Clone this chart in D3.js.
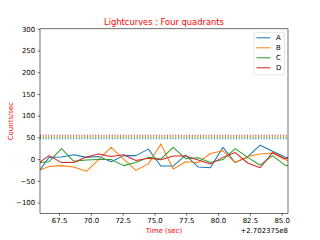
<!DOCTYPE html>
<html>
<head>
<meta charset="utf-8">
<script src="https://cdn.jsdelivr.net/npm/d3@7.9.0/dist/d3.min.js"></script>
<style>
  body { margin: 0; background: #fff; }
  svg { display: block; font-family: "DejaVu Sans", sans-serif; }
</style>
</head>
<body>
<svg width="320" height="240"></svg>
<script>
// time offsets (sec, relative to 2.702375e8)
const times = [66.0, 66.71, 67.69, 68.66, 69.64, 70.61, 71.59, 72.57, 73.54, 74.52, 75.50,
               76.47, 77.45, 78.43, 79.40, 80.38, 81.35, 82.33, 83.31, 84.28, 85.26, 85.5];
const seriesNames = ['A', 'B', 'C', 'D'];
const countsA = [-25, 4, 5, 10, 4, 6, -6, 8, 8, 23, -16, -16, 9, -18, -20, 27, -8, 5, 32, 18, 5, 3];
const countsB = [-25, -17, -15, -18, -28, -1, 27, 0, -26, -11, 35, -23, -6, -8, 13, 19, -8, 6, 12, 14, -1, -4];
const countsC = [-8, -6, 24, -5, -2, -1, -1, -15, -8, 4, 0, 27, 1, 3, -8, -1, 24, 4, -14, 8, -14, -15];
const countsD = [-7, 8, -8, -8, 5, 12, 6, 10, -3, 2, -1.5, 7, 7, -2, -11, 4, 15, -9, -20, 15, 1, 2];
const thresholds = [47, 52, 49, 55];   // dotted level per series
const xTicks = [67.5, 70.0, 72.5, 75.0, 77.5, 80.0, 82.5, 85.0];
const yTicks = [-100, -50, 0, 50, 100, 150, 200, 250, 300];

const colors = ['#1f77b4', '#ff7f0e', '#2ca02c', '#d62728'];
const allCounts = [countsA, countsB, countsC, countsD];

const m = { left: 40, right: 288, top: 28.8, bottom: 213.4 };
const fs = 6.94;

const svg = d3.select('svg');
const x = d3.scaleLinear().domain([66.0, 85.5]).range([m.left, m.right]);
const y = d3.scaleLinear().domain([-125, 300]).range([m.bottom, m.top]);

svg.append('defs').append('clipPath').attr('id', 'clip')
  .append('rect')
  .attr('x', m.left).attr('y', m.top)
  .attr('width', m.right - m.left).attr('height', m.bottom - m.top);

const plot = svg.append('g').attr('clip-path', 'url(#clip)');

// threshold dotted lines
thresholds.forEach((t, i) => {
  plot.append('line')
    .attr('x1', m.left).attr('x2', m.right)
    .attr('y1', y(t)).attr('y2', y(t))
    .attr('stroke', colors[i])
    .attr('stroke-width', 1.04)
    .attr('stroke-dasharray', '1.04,1.72');
});

const line = d3.line()
  .x((d, i) => x(times[i]))
  .y(d => y(d));

allCounts.forEach((vals, i) => {
  plot.append('path')
    .attr('d', line(vals))
    .attr('fill', 'none')
    .attr('stroke', colors[i])
    .attr('stroke-width', 1.04)
    .attr('stroke-linejoin', 'round');
});

// axes
const xAxis = svg.append('g')
  .attr('transform', `translate(0,${m.bottom})`)
  .call(d3.axisBottom(x).tickValues(xTicks).tickFormat(d3.format('.1f'))
    .tickSize(2.43).tickPadding(2.43).tickSizeOuter(0));
const yAxis = svg.append('g')
  .attr('transform', `translate(${m.left},0)`)
  .call(d3.axisLeft(y).tickValues(yTicks).tickFormat(d3.format('d'))
    .tickSize(2.43).tickPadding(2.43).tickSizeOuter(0));

[xAxis, yAxis].forEach(a => {
  a.select('.domain').remove();
  a.selectAll('line').attr('stroke', '#000').attr('stroke-width', 0.56);
  a.selectAll('text').attr('font-size', fs).attr('fill', '#000')
    .attr('font-family', '"DejaVu Sans", sans-serif');
});

// spines
svg.append('rect')
  .attr('x', m.left).attr('y', m.top)
  .attr('width', m.right - m.left).attr('height', m.bottom - m.top)
  .attr('fill', 'none').attr('stroke', '#000').attr('stroke-width', 0.56);

// title and labels
svg.append('text')
  .attr('x', (m.left + m.right) / 2).attr('y', m.top - 4)
  .attr('text-anchor', 'middle')
  .attr('font-size', 8.33).attr('fill', 'red')
  .text('Lightcurves : Four quadrants');

svg.append('text')
  .attr('x', (m.left + m.right) / 2).attr('y', 232.5)
  .attr('text-anchor', 'middle')
  .attr('font-size', fs).attr('fill', 'red')
  .text('Time (sec)');

svg.append('text')
  .attr('x', m.right).attr('y', 232.5)
  .attr('text-anchor', 'end')
  .attr('font-size', fs).attr('fill', '#000')
  .text('+2.702375e8');

svg.append('text')
  .attr('transform', `translate(12.5,${(m.top + m.bottom) / 2}) rotate(-90)`)
  .attr('text-anchor', 'middle')
  .attr('font-size', fs).attr('fill', 'red')
  .text('Counts/sec');

// legend
const legend = svg.append('g');
legend.append('rect')
  .attr('x', 254).attr('y', 32.3)
  .attr('width', 30.5).attr('height', 42.5)
  .attr('rx', 1.4)
  .attr('fill', '#fff').attr('fill-opacity', 0.8)
  .attr('stroke', '#d0d0d0').attr('stroke-width', 0.56);

seriesNames.forEach((name, i) => {
  const ly = 37.8 + i * 10;
  legend.append('line')
    .attr('x1', 256.5).attr('x2', 270.4)
    .attr('y1', ly).attr('y2', ly)
    .attr('stroke', colors[i]).attr('stroke-width', 1.04);
  legend.append('text')
    .attr('x', 276).attr('y', ly)
    .attr('dy', '0.35em')
    .attr('font-size', fs).attr('fill', '#000')
    .text(name);
});
</script>
</body>
</html>
